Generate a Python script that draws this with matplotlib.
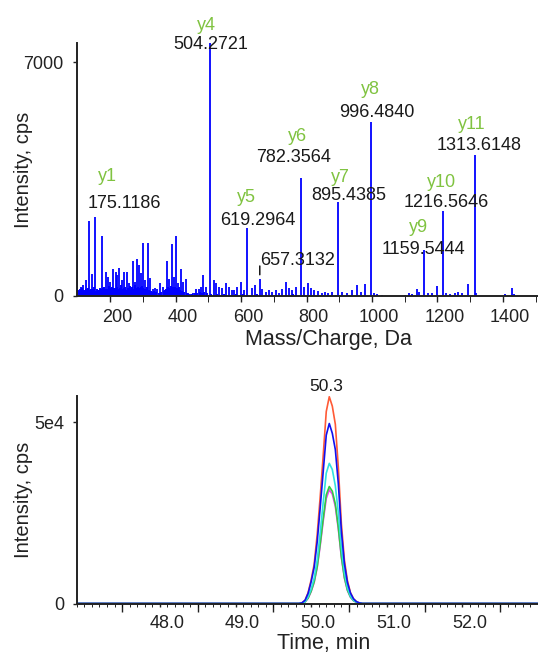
import matplotlib
matplotlib.use('Agg')
import matplotlib.pyplot as plt
import matplotlib.transforms as mtransforms
from matplotlib.ticker import FixedLocator, MultipleLocator, NullFormatter

plt.rcParams['font.family'] = ['Liberation Sans', 'DejaVu Sans']

# ---------------- data: MS/MS spectrum ----------------
ion_names = ['y1', 'y4', 'y5', '', 'y6', 'y7', 'y8', 'y9', 'y10', 'y11']
ion_mz = [175.1186, 504.2721, 619.2964, 657.3132, 782.3564, 895.4385,
          996.4840, 1159.5444, 1216.5646, 1313.6148]
ion_int = [1810, 7570, 2030, 510, 3530, 2810, 5200, 1380, 2540, 4220]

peak_mz = [100.2, 110.5, 118.5, 126.7, 135.9, 145.0, 154.2, 163.4, 179.6, 187.8,
           193.0, 200.0, 210.2, 217.3, 222.4, 228.5, 235.6, 242.7, 250.9, 258.0,
           269.2, 277.3, 283.4, 289.5, 295.6, 301.7, 307.8, 315.0, 322.0, 330.0,
           337.4, 344.5, 352.7, 361.0, 373.0, 381.0, 388.4, 395.4, 401.5, 408.6,
           416.8, 423.9, 431.2, 439.2, 446.4, 454.4, 462.6, 470.8, 477.9, 484.9,
           492.2, 516.0, 523.7, 532.8, 542.9, 553.3, 563.4, 571.6, 579.6, 588.8,
           599.0, 610.0, 632.6, 642.7, 665.0, 675.4, 685.5, 695.6, 705.8, 716.0,
           726.0, 736.5, 746.6, 756.7, 767.0, 792.3, 803.6, 813.7, 823.9, 836.0,
           846.4, 856.5, 866.6, 877.0, 909.3, 922.7, 938.0, 953.3, 966.4, 978.6,
           1006.0, 1014.0, 1113.9, 1121.0, 1136.5, 1143.5, 1172.0, 1182.0, 1197.6,
           1226.0, 1238.0, 1253.4, 1263.5, 1274.0, 1292.0, 1317.6, 1406.0, 1426.6,
           1433.6]
peak_int = [1226, 260, 330, 480, 2253, 660, 2353, 180, 240, 730,
            580, 430, 800, 730, 630, 830, 480, 730, 730, 380,
            1060, 430, 1100, 930, 680, 1600, 480, 1600, 530, 200,
            230, 200, 380, 260, 1047, 500, 1546, 580, 1805, 380,
            800, 430, 500, 80, 50, 80, 200, 200, 260, 630,
            260, 480, 380, 280, 230, 400, 280, 180, 180, 280,
            430, 180, 230, 330, 200, 130, 180, 130, 180, 100,
            200, 430, 230, 180, 280, 280, 380, 230, 180, 160,
            100, 130, 100, 130, 130, 80, 180, 330, 130, 350,
            80, 50, 80, 60, 200, 130, 100, 80, 300,
            80, 50, 100, 130, 100, 350, 80, 60, 250,
            60]

grass_mz = [103, 105, 106, 108, 111, 113, 115, 117, 121, 123, 125, 129, 131, 133,
            137, 139, 141, 143, 148, 150, 152, 157, 160, 162, 166, 168, 170, 173,
            177, 182, 184, 186, 190, 196, 198, 203, 205, 207, 209, 213, 215, 218,
            220, 225, 227, 231, 233, 238, 240, 243, 245, 247, 253, 255, 258, 261,
            263, 266, 268, 272, 275, 280, 282, 286, 288, 292, 294, 298, 300, 304,
            306, 310, 312, 318, 320, 325, 327, 333, 335, 340, 348, 356, 364, 366,
            368, 370, 376, 378, 383, 385, 391, 393, 398, 404, 406, 411, 414, 420,
            427, 434, 442, 450, 458, 466, 474, 481, 488, 495, 507, 528, 548, 585,
            605, 650, 700, 760, 850, 890, 930, 1030, 1100, 1250]
grass_int = [180, 140, 150, 210, 130, 160, 230, 150, 180, 140, 200, 200, 170, 250,
             160, 190, 160, 200, 220, 180, 260, 150, 200, 180, 170, 240, 150, 200,
             190, 260, 180, 220, 210, 300, 170, 230, 260, 180, 200, 240, 200, 250,
             280, 190, 220, 250, 320, 200, 180, 230, 270, 220, 190, 240, 210, 300,
             180, 260, 220, 200, 330, 210, 250, 280, 230, 240, 260, 300, 250, 220,
             200, 190, 260, 170, 140, 150, 120, 160, 130, 120, 100, 110, 140, 160,
             180, 220, 260, 200, 240, 300, 240, 260, 280, 230, 190, 260, 180, 150,
             120, 90, 60, 70, 80, 100, 120, 90, 110, 80, 60, 50, 70, 60,
             50, 60, 40, 50, 40, 40, 40, 30, 30, 30]

# ---------------- data: extracted ion chromatograms ----------------
times = [46.90, 49.80, 49.84, 49.88, 49.92, 49.96, 50.00, 50.04, 50.08, 50.12,
         50.16, 50.20, 50.24, 50.28, 50.32, 50.36, 50.40, 50.44, 50.48, 50.52,
         50.56, 50.60, 50.64, 50.68, 50.72, 53.00]
xic_red = [0, 0, 0, 200, 900, 3000, 6500, 10800, 19000, 29500,
           41000, 53000, 57100, 54500, 49500, 37500, 22000, 12000, 6300, 3000,
           1300, 500, 150, 0, 0, 0]
xic_magenta = [0, 0, 0, 100, 430, 1450, 3300, 5800, 9900, 16000,
               22800, 29000, 31400, 30200, 26800, 20500, 12700, 7000, 3600, 1750,
               780, 300, 100, 0, 0, 0]
xic_green = [0, 0, 0, 100, 450, 1500, 3400, 6000, 10200, 16500,
             23500, 30000, 32300, 31000, 27500, 21000, 13000, 7200, 3700, 1800,
             800, 300, 100, 0, 0, 0]
xic_cyan = [0, 0, 0, 100, 500, 1800, 4000, 7000, 12000, 19500,
            28000, 36000, 38700, 37000, 32500, 25000, 15500, 8500, 4300, 2000,
            900, 350, 100, 0, 0, 0]
xic_blue = [0, 0, 0, 200, 900, 2800, 6000, 10000, 17000, 26500,
            36500, 46500, 49700, 47000, 42500, 33000, 20000, 11000, 5800, 2900,
            1300, 500, 150, 0, 0, 0]
apex_label = '50.3'

# ---------------- figure ----------------
W, H = 538, 656
fig = plt.figure(figsize=(W / 100, H / 100), dpi=100)

def px_axes(l, t, r, b):
    return fig.add_axes([l / W, 1 - b / H, (r - l) / W, (b - t) / H])

T1, B1, L1 = 43, 296, 77
T2, B2, L2 = 396, 603.5, 76.7
ax1 = px_axes(L1, T1, 538, B1)
ax2 = px_axes(L2, T2, 538, B2)

spec_blue = '#0000FF'
name_green = '#80C341'
TICK_FS = 13
XLAB_FS = 15.5
YLAB_FS = 14.5

for ax in (ax1, ax2):
    for s in ('top', 'right'):
        ax.spines[s].set_visible(False)
    for s in ('left', 'bottom'):
        ax.spines[s].set_color('#222222')
        ax.spines[s].set_linewidth(1.4)
    ax.tick_params(direction='out', colors='#222222', labelcolor='#222222',
                   labelsize=TICK_FS, width=1.0)

# ---- top: spectrum ----
ax1.vlines(grass_mz, 0, grass_int, color=spec_blue, lw=1.4)
ax1.vlines(peak_mz, 0, peak_int, color=spec_blue, lw=1.3)
ax1.vlines(ion_mz, 0, ion_int, color=spec_blue, lw=1.3)
ax1.set_xlim(99, 1507)
ax1.set_ylim(0, 7570)
ax1.xaxis.set_major_locator(FixedLocator([200, 400, 600, 800, 1000, 1200, 1400]))
ax1.xaxis.set_minor_locator(FixedLocator([300, 500, 700, 900, 1100, 1300, 1500]))
ax1.tick_params(axis='x', which='both', length=4, pad=5)
ax1.yaxis.set_major_locator(FixedLocator([0, 7000]))
ax1.tick_params(axis='y', length=3, pad=7)
ax1.set_xlabel('Mass/Charge, Da', fontsize=XLAB_FS, color='#222222')
ax1.set_ylabel('Intensity, cps', fontsize=YLAB_FS, color='#222222')
ax1.xaxis.set_label_coords((328.5 - L1) / (538 - L1), (B1 - 329) / (B1 - T1))
ax1.yaxis.set_label_coords((33 - L1) / (538 - L1), 0.5)

# label layout (pixel offsets from peak tops)
num_off = [(22.6, 31.7), (1, -2), (10, 7.4), (38, 18), (-6.7, 20.5), (11, 6.2),
           (6, 10), (-0.5, 0.5), (3, 8.5), (4.3, 9)]
name_off = [(5, 58.7), (-3, 17), (-0.5, 31), None, (-3.7, 42), (2.4, 25),
            (-0.7, 33), (-6, 22), (-1, 29), (-2.7, 30)]
for i, (mz, it, nm) in enumerate(zip(ion_mz, ion_int, ion_names)):
    ax1.annotate(f'{mz:.4f}', xy=(mz, it), xytext=num_off[i], textcoords='offset pixels',
                 ha='center', va='center', fontsize=TICK_FS, color='#1a1a1a',
                 annotation_clip=False)
    if nm:
        ax1.annotate(nm, xy=(mz, it), xytext=name_off[i], textcoords='offset pixels',
                     ha='center', va='center', fontsize=TICK_FS, color=name_green,
                     annotation_clip=False)
    else:
        ax1.annotate('', xy=(mz, it), xytext=(0, 13), textcoords='offset pixels',
                     arrowprops=dict(arrowstyle='-', color='black', lw=1.0,
                                     shrinkA=0, shrinkB=3))

# ---- bottom: chromatograms ----
lw = 1.2
ax2.plot(times, xic_red, color='#FF5A36', lw=lw)
ax2.plot(times, xic_magenta, color='#F040F0', lw=lw)
ax2.plot(times, xic_green, color='#30CC40', lw=lw)
ax2.plot(times, xic_cyan, color='#30E0E0', lw=lw)
ax2.plot(times, xic_blue, color='#1010F0', lw=lw)
ax2.set_xlim(46.9, 53.0)
ax2.set_ylim(0, 57300)
ax2.xaxis.set_major_locator(FixedLocator([48.0, 49.0, 50.0, 51.0, 52.0]))
ax2.xaxis.set_major_formatter(plt.FuncFormatter(lambda v, p: f'{v:.1f}'))
ax2.xaxis.set_minor_locator(MultipleLocator(0.1))
ax2.tick_params(axis='x', which='both', length=2.5, pad=6)
sec = ax2.secondary_xaxis('bottom')
sec.xaxis.set_major_locator(FixedLocator([47.5, 48.5, 49.5, 50.5, 51.5, 52.5]))
sec.xaxis.set_major_formatter(NullFormatter())
sec.tick_params(axis='x', length=5.5, width=1.0, colors='#222222')
sec.spines['bottom'].set_visible(False)
ax2.yaxis.set_major_locator(FixedLocator([0, 50000]))
ax2.yaxis.set_major_formatter(plt.FuncFormatter(lambda v, p: '0' if v == 0 else '5e4'))
ax2.tick_params(axis='y', length=3, pad=6)
ax2.set_xlabel('Time, min', fontsize=XLAB_FS, color='#222222')
ax2.set_ylabel('Intensity, cps', fontsize=YLAB_FS, color='#222222')
ax2.xaxis.set_label_coords((324 - L2) / (538 - L2), (B2 - 633) / (B2 - T2))
ax2.yaxis.set_label_coords((33 - L2) / (538 - L2), 0.5)

imax = xic_red.index(max(xic_red))
ax2.annotate(apex_label, xy=(times[imax], xic_red[imax]), xytext=(-3, 10),
             textcoords='offset pixels', ha='center', va='center',
             fontsize=12.5, color='#1a1a1a', annotation_clip=False)

# shift x tick labels slightly right as in the reference
fig.canvas.draw()
shift = mtransforms.ScaledTranslation(7 / 100, 0, fig.dpi_scale_trans)
for ax in (ax1, ax2):
    for tk in ax.xaxis.get_major_ticks():
        tk.label1.set_transform(tk.label1.get_transform() + shift)

fig.savefig('out.png', dpi=100)
